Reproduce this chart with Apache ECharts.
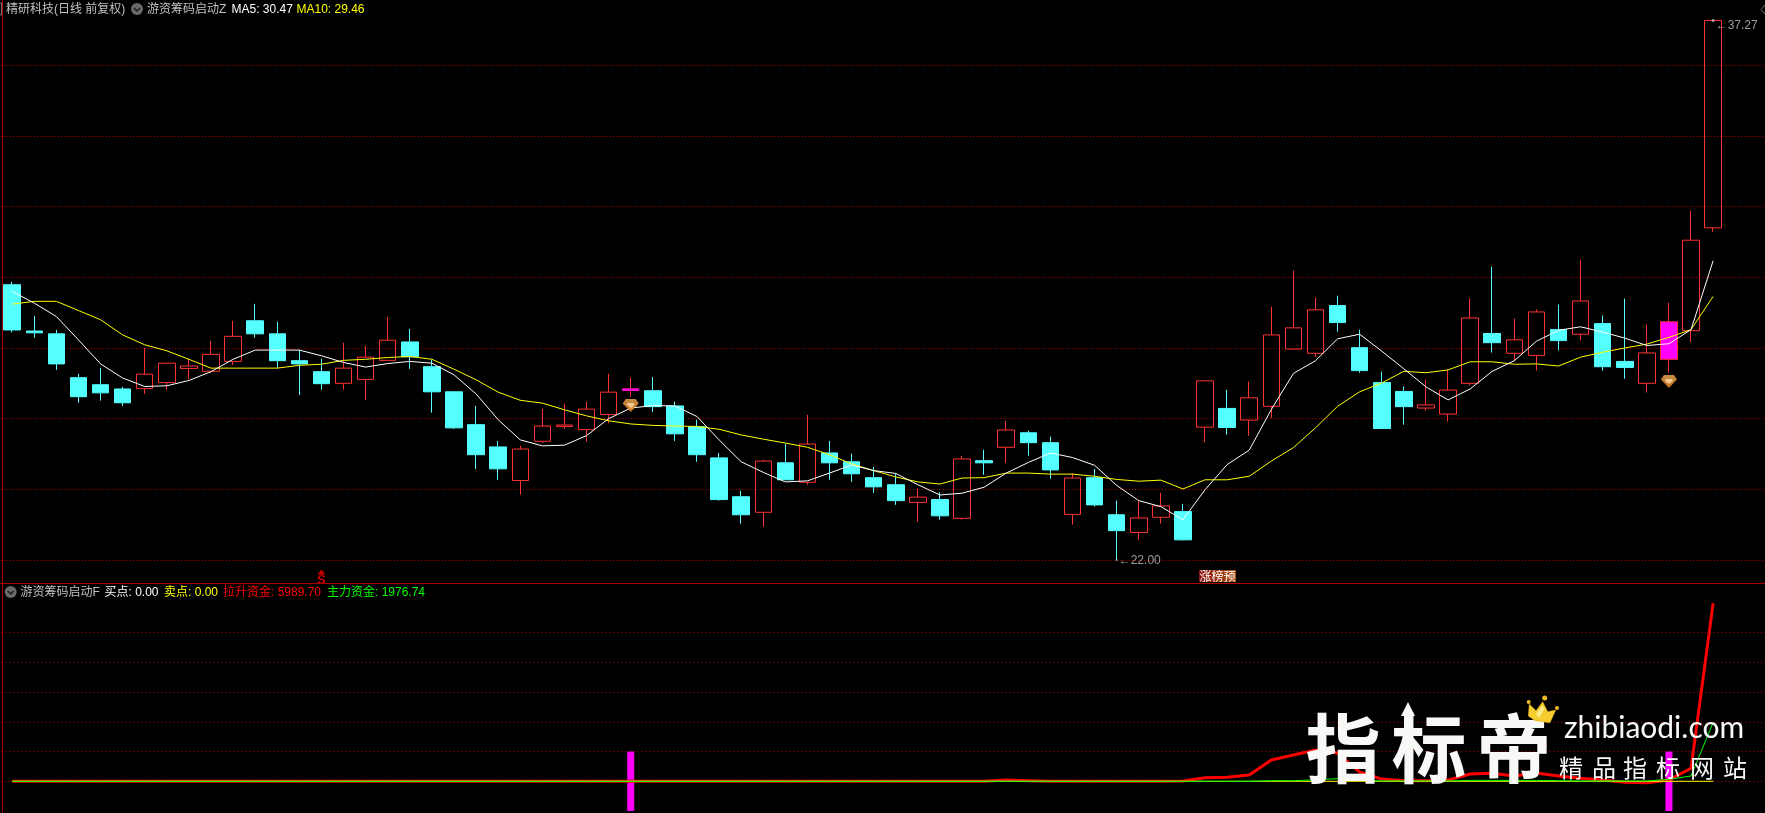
<!DOCTYPE html>
<html><head><meta charset="utf-8">
<style>html,body{margin:0;padding:0;background:#000}#c{width:1765px;height:813px}</style>
<script src="https://cdn.jsdelivr.net/npm/echarts@6/dist/echarts.min.js"></script>
</head><body><div id="c"></div>
<script>
const opens=[29.79,28.48,28.40,27.16,26.96,26.84,26.85,27.02,27.42,27.34,27.62,28.77,28.40,27.64,27.33,27.00,27.11,27.65,28.17,27.47,26.76,25.83,25.20,24.25,25.36,25.78,25.69,26.12,26.80,26.79,26.36,25.77,24.89,23.79,23.35,24.75,24.20,25.03,24.78,24.33,24.13,23.63,23.71,23.18,24.81,25.19,25.60,25.32,23.29,24.33,23.28,22.78,23.21,23.37,25.76,26.29,25.96,26.35,27.97,27.85,29.20,28.01,27.02,26.77,26.30,26.13,27.00,28.41,27.85,27.79,28.52,28.39,28.69,27.62,27.00,27.68,28.49,31.40];
const closes=[28.51,28.43,27.55,26.62,26.73,26.45,27.26,27.57,27.49,27.82,28.33,28.40,27.64,27.55,26.99,27.43,27.74,28.22,27.75,26.76,25.74,24.98,24.58,25.14,25.79,25.82,26.27,26.75,26.84,26.34,25.57,24.98,23.71,23.28,24.80,24.27,25.28,24.75,24.44,24.07,23.68,23.78,23.25,24.86,24.75,25.68,25.32,24.55,24.32,23.56,22.83,23.19,23.53,22.57,27.07,25.75,26.59,28.37,28.57,29.08,28.72,27.36,25.72,26.34,26.39,26.81,28.85,28.15,28.23,29.02,28.21,29.33,27.47,27.45,27.86,28.74,31.05,37.27];
const lows=[28.44,28.29,27.38,26.45,26.51,26.36,26.70,26.82,27.11,27.29,27.52,28.29,27.42,26.67,26.82,26.82,26.53,27.65,27.41,26.17,25.71,24.58,24.27,23.85,25.31,25.71,25.35,25.87,26.62,26.19,25.37,24.78,23.68,23.03,22.94,24.27,24.13,24.27,24.21,23.90,23.56,23.08,23.14,23.14,24.41,24.75,24.95,24.30,23.00,23.51,22.00,22.57,23.03,22.55,25.33,25.55,25.52,26.02,27.97,27.75,28.46,27.30,25.72,25.83,26.23,25.92,26.94,27.87,27.62,27.36,27.93,28.21,27.36,27.13,26.74,27.30,28.17,31.29];
const highs=[29.87,28.91,28.51,27.27,27.44,26.90,28.00,27.57,27.69,28.20,28.77,29.25,28.74,27.95,27.69,28.15,28.06,28.88,28.54,27.66,26.76,26.36,25.37,25.23,26.28,26.42,26.48,27.27,27.16,27.18,26.48,25.97,25.03,23.96,24.84,25.29,26.11,25.37,25.01,24.64,24.44,24.02,23.92,24.95,25.12,25.94,25.66,25.49,24.46,24.58,23.68,23.68,23.90,23.59,27.07,26.82,27.05,29.17,30.19,29.43,29.48,28.52,27.33,26.91,27.11,27.39,29.40,30.30,28.83,29.09,29.23,30.50,28.92,29.40,28.66,29.28,31.88,37.27];
const ma5=[29.60,29.27,28.89,28.23,27.55,27.15,26.91,26.93,27.08,27.33,27.68,27.94,27.94,27.94,27.78,27.59,27.46,27.56,27.62,27.57,27.24,26.70,25.97,25.40,25.23,25.25,25.52,26.00,26.30,26.37,26.36,26.06,25.40,24.78,24.48,24.21,24.24,24.46,24.69,24.53,24.45,24.13,23.84,23.89,24.06,24.46,24.76,25.03,24.90,24.68,24.11,23.68,23.51,23.14,23.99,24.70,25.11,26.26,27.28,27.64,28.26,28.39,27.91,27.41,26.90,26.53,26.84,27.34,27.64,28.19,28.50,28.60,28.45,28.28,28.07,28.12,28.52,30.47];
const ma10=[29.24,29.32,29.32,29.06,28.80,28.37,28.09,27.92,27.68,27.43,27.43,27.43,27.43,27.51,27.54,27.65,27.68,27.73,27.76,27.68,27.40,27.10,26.75,26.52,26.44,26.25,26.08,25.94,25.85,25.81,25.79,25.78,25.70,25.54,25.42,25.31,25.19,24.98,24.72,24.53,24.35,24.21,24.15,24.32,24.33,24.46,24.46,24.43,24.43,24.37,24.28,24.23,24.26,24.01,24.27,24.27,24.37,24.80,25.18,25.74,26.35,26.76,27.01,27.34,27.30,27.38,27.61,27.61,27.54,27.55,27.49,27.74,27.88,28.00,28.11,28.30,28.52,29.46];
// lower pane (values at indices 0..77)
const pullFund=[0,0,0,0,0,0,0,0,0,0,0,0,0,0,0,0,0,0,0,0,0,0,0,0,0,0,0,0,0,0,0,0,0,0,0,0,0,0,0,0,0,0,0,0,0,40,20,0,0,0,0,0,0,10,120,135,212,717,885,1053,950,312,75,20,20,40,245,270,175,280,178,100,40,-30,-50,40,437,5989.70];
const mainFund=[0,0,0,0,0,0,0,0,0,0,0,0,0,0,0,0,0,0,0,0,0,0,0,0,0,0,0,0,0,0,0,0,0,0,0,0,0,0,0,0,0,0,0,0,0,0,0,0,0,0,0,0,0,0,0,0,0,20,20,50,90,30,10,10,10,10,30,30,30,30,20,10,10,10,10,66,178,1976.74];
const sellPoint=new Array(78).fill(0);
const signalIdx=[28,75];
const signalUp=new Array(78).fill(null), signalDown=new Array(78).fill(null);
signalIdx.forEach(i=>{signalUp[i]=1000;signalDown[i]=-1000;});
const gemMarks=[[28,26.37],[75,27.05]];
const dojiMark=[[28,26.82]];
const lowMark=[[50,22.00]], highMark=[[77,37.27]];
const sMark=[[14,21.66]];
const slots=Array.from({length:80},(_,i)=>String(i));

const UP='#ff3232',DOWN='#54ffff',PINK='#ff00ff',GRID='#b80000',GRAY='#c0c0c0';
const FF='"Liberation Sans","Noto Sans CJK SC",sans-serif';
const candles=opens.map((o,i)=>{
  const v=[o,closes[i],lows[i],highs[i]];
  if(signalIdx.includes(i)) return {value:v,itemStyle:{color:PINK,color0:PINK,borderColor:UP,borderColor0:UP}};
  return v;
});

function txt(text,x,y,fill,font,align){return {type:'text',z:50,silent:true,style:{text,x,y,fill,font:font||('12px '+FF),textAlign:align||'left',textVerticalAlign:'middle'}};}
function icon(cx,cy){return [
 {type:'circle',z:50,shape:{cx,cy,r:6},style:{fill:'#6a6a6a'}},
 {type:'polyline',z:51,shape:{points:[[cx-3,cy-1],[cx,cy+2],[cx+3,cy-1]]},style:{stroke:'#1a1a1a',fill:null,lineWidth:1.4}}
];}
function mark(text,x,y,size,weight){return {type:'text',z:60,silent:true,style:{text,x,y,fill:'#f8f9f7',font:(weight||'normal')+' '+size+'px "Noto Sans CJK SC",sans-serif',textAlign:'center',textVerticalAlign:'middle',shadowColor:'rgba(255,255,255,0.45)',shadowBlur:5}};}

const graphics=[
 {type:'rect',z:40,shape:{x:0,y:583,width:1765,height:1},style:{fill:'#aa0000'}},
 {type:'rect',z:40,shape:{x:2,y:0,width:1,height:813},style:{fill:'#aa0000'}},
 {type:'polyline',z:40,shape:{points:[[0,3],[1.5,3],[1.5,15],[0,15]]},style:{stroke:'#777',fill:null,lineWidth:1}},
 {type:'polyline',z:40,shape:{points:[[1765,5],[1761,9.5],[1765,14]]},style:{stroke:'#777',fill:null,lineWidth:1}},
 txt('精研科技(日线 前复权)',6,9.5,GRAY),
 ...icon(137,9),
 txt('游资筹码启动Z',147,9.5,GRAY),
 txt('MA5: 30.47',231.5,9.5,'#ffffff'),
 txt('MA10: 29.46',296.5,9.5,'#ffff00'),
 ...icon(10.7,592),
 txt('游资筹码启动F',20.5,592.5,GRAY),
 txt('买点: 0.00',104.5,592.5,'#ffffff'),
 txt('卖点: 0.00',164,592.5,'#ffff00'),
 txt('拉升资金: 5989.70',223,592.5,'#ff0000'),
 txt('主力资金: 1976.74',327,592.5,'#00ff00'),
 {type:'rect',z:45,shape:{x:1199,y:570,width:37,height:12},style:{fill:new echarts.graphic.LinearGradient(0,0,1,0,[{offset:0,color:'#8a1010'},{offset:1,color:'#a8540f'}])}},
 txt('涨榜预',1217.5,576.5,'#ffffff','12px "Noto Sans CJK SC",sans-serif','center'),
 // watermark
 mark('指',1343,748,75,'bold'),
 mark('标',1429,748,75,'bold'),
 mark('帝',1514,748,75,'bold'),
 {type:'polygon',z:61,shape:{points:[[1408,702],[1415,716],[1412,716],[1412,730],[1404,730],[1404,716],[1401,716]]},style:{fill:'#f8f9f7'}},
 {type:'polygon',z:62,shape:{points:[[1528.3,716],[1529.3,704],[1536,710.7],[1542.7,701.7],[1547.7,711.7],[1555.7,710],[1550,722.7],[1535,720.7]]},style:{fill:'#f5cd2f',stroke:'#e0b020',lineWidth:0.5}},
 {type:'polygon',z:63,shape:{points:[[1536,714],[1542,706],[1545,708],[1539,718]]},style:{fill:'#fbe98a'}},
 {type:'circle',z:62,shape:{cx:1528.7,cy:702,r:2},style:{fill:'#f0b828'}},
 {type:'circle',z:62,shape:{cx:1544.7,cy:698,r:2.5},style:{fill:'#f0b828'}},
 {type:'circle',z:62,shape:{cx:1557,cy:708,r:2},style:{fill:'#f0b828'}},
 {type:'text',z:60,silent:true,style:{text:'zhibiaodi.com',x:1654,y:728,fill:'#f8f9f7',font:'30px "Lato",sans-serif',textAlign:'center',textVerticalAlign:'middle',shadowColor:'rgba(255,255,255,0.4)',shadowBlur:4}},
 mark('精',1571,768,24),mark('品',1604,768,24),mark('指',1635,768,24),mark('标',1668,768,24),mark('网',1702,768,24),mark('站',1735,768,24)
];

const chart=echarts.init(document.getElementById('c'),null,{renderer:'canvas'});
const pane={left:1.15,width:1767.2,containLabel:false,outerBoundsMode:'none'};
chart.setOption({
 animation:false,backgroundColor:'#000000',
 grid:[{...pane,top:-5.37,height:636.04},{...pane,top:603,height:208}],
 xAxis:[{type:'category',gridIndex:0,data:slots,show:false,boundaryGap:true},{type:'category',gridIndex:1,data:slots,show:false,boundaryGap:true}],
 yAxis:[
  {type:'value',gridIndex:0,min:20,max:38,interval:2,axisLine:{show:false},axisTick:{show:false},axisLabel:{show:false},
   splitLine:{show:true,showMinLine:false,showMaxLine:false,lineStyle:{color:GRID,width:1,type:[1,2]}}},
  {type:'value',gridIndex:1,min:-1000,max:6000,interval:1000,axisLine:{show:false},axisTick:{show:false},axisLabel:{show:false},
   splitLine:{show:true,showMinLine:false,showMaxLine:false,lineStyle:{color:GRID,width:1,type:[1,3]}}}
 ],
 series:[
  {name:'K',type:'candlestick',xAxisIndex:0,yAxisIndex:0,data:candles,barWidth:17,clip:false,
   itemStyle:{color:'transparent',color0:DOWN,borderColor:UP,borderColor0:DOWN,borderWidth:1},z:2},
  {name:'doji',type:'scatter',xAxisIndex:0,yAxisIndex:0,data:dojiMark,symbol:'rect',symbolSize:[17,2.5],itemStyle:{color:PINK},z:3},
  {name:'MA5',type:'line',xAxisIndex:0,yAxisIndex:0,data:ma5,showSymbol:false,symbol:'none',lineStyle:{color:'#ffffff',width:1},z:4},
  {name:'MA10',type:'line',xAxisIndex:0,yAxisIndex:0,data:ma10,showSymbol:false,symbol:'none',lineStyle:{color:'#ffff00',width:1},z:3},
  {name:'gem',type:'scatter',xAxisIndex:0,yAxisIndex:0,data:gemMarks,symbol:'path://M3 0 L13 0 L16 4 L8 12 L0 4 Z',symbolSize:[16,13],
   itemStyle:{color:new echarts.graphic.LinearGradient(0,0,0,1,[{offset:0,color:'#f9b25a'},{offset:1,color:'#f08a20'}])},z:5},
  {name:'gemInner',type:'scatter',xAxisIndex:0,yAxisIndex:0,data:gemMarks,symbol:'path://M1 0 L7 0 L8 2 L4 6 L0 2 Z',symbolSize:[8,5],
   itemStyle:{color:'#ffdca8'},z:6},
  {name:'low',type:'scatter',xAxisIndex:0,yAxisIndex:0,data:lowMark,symbol:'circle',symbolSize:2,itemStyle:{color:GRAY},z:6,
   label:{show:true,position:'right',distance:1,color:GRAY,fontSize:12,fontFamily:FF,formatter:p=>'←'+p.value[1].toFixed(2),offset:[0,1]}},
  {name:'high',type:'scatter',xAxisIndex:0,yAxisIndex:0,data:highMark,symbol:'circle',symbolSize:3,itemStyle:{color:GRAY},z:6,
   label:{show:true,position:'right',distance:1,color:GRAY,fontSize:12,fontFamily:FF,formatter:p=>'←'+p.value[1].toFixed(2),offset:[0,5]}},
  {name:'S',type:'scatter',xAxisIndex:0,yAxisIndex:0,data:sMark,symbol:'triangle',symbolSize:[8,5],itemStyle:{color:'#ff0000'},z:6,
   label:{show:true,position:'bottom',distance:-1,color:'#ff0000',fontSize:13,fontWeight:'bold',fontFamily:FF,formatter:'S'}},
  {name:'signalUp',type:'bar',xAxisIndex:1,yAxisIndex:1,data:signalUp,barWidth:7,barGap:'-100%',itemStyle:{color:PINK},z:2},
  {name:'signalDown',type:'bar',xAxisIndex:1,yAxisIndex:1,data:signalDown,barWidth:7,barGap:'-100%',itemStyle:{color:PINK},z:2},
  {name:'拉升资金',type:'line',xAxisIndex:1,yAxisIndex:1,data:pullFund,showSymbol:false,symbol:'none',lineStyle:{color:'#ff0000',width:3},z:3},
  {name:'卖点',type:'line',xAxisIndex:1,yAxisIndex:1,data:sellPoint,showSymbol:false,symbol:'none',lineStyle:{color:'#ffff00',width:1},z:4},
  {name:'主力资金',type:'line',xAxisIndex:1,yAxisIndex:1,data:mainFund,showSymbol:false,symbol:'none',lineStyle:{color:'#00ff00',width:1},z:5}
 ],
 graphic:{elements:graphics}
});
</script></body></html>
